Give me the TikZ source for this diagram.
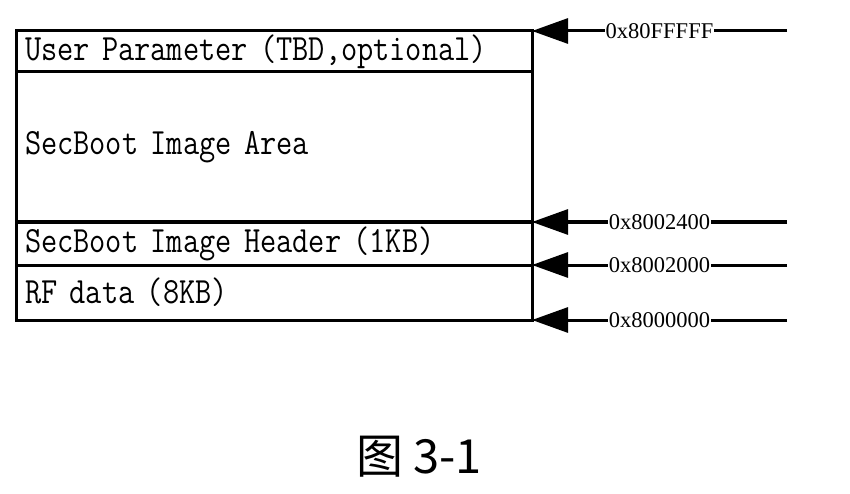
\documentclass[tikz,border=0pt]{standalone}
\usepackage{fontspec}
\setmainfont{Liberation Serif}
\newfontfamily\boxfont[FakeStretch=0.85]{Latin Modern Mono}
\newfontfamily\cjk{Noto Sans CJK SC}
\usetikzlibrary{arrows.meta}

\begin{document}
\begin{tikzpicture}[x=1pt,y=-1pt,
    region/.style={draw,line width=3pt,outer sep=0pt,minimum width=516pt,
      text width=498pt,inner xsep=9pt,inner ysep=0pt,align=left,
      font=\boxfont\fontsize{37}{40}\selectfont},
    addr/.style={-{Triangle[length=36pt,width=25pt]},line width=3pt},
    val/.style={fill=white,inner sep=1pt,font=\fontsize{22.5}{24}\selectfont}]

    \useasboundingbox (0,0) rectangle (850,494);

    % the memory regions
    \node[region,minimum height=41pt] (user) at (274,51.5) {User Parameter (TBD,optional)};
    \node[region,minimum height=150pt] (area) at (274,147) {SecBoot Image Area};
    \node[region,minimum height=43pt] (header) at (274,243.5) {SecBoot Image Header (1KB)};
    \node[region,minimum height=55pt] (rf) at (274,292.5) {RF data (8KB)};

    % the addresses
    \coordinate (top) at (787,31);
    \coordinate (a2400) at (787,222);
    \coordinate (a2000) at (787,265);
    \coordinate (a0000) at (787,320);

    \draw[addr] (top) -- node[val]{0x80FFFFF} (user.north east);
    \draw[addr] (a2400) -- node[val]{0x8002400} (header.north east);
    \draw[addr] (a2000) -- node[val]{0x8002000} (header.south east);
    \draw[addr] (a0000) -- node[val]{0x8000000} (rf.south east);

    \node[anchor=base,font=\cjk\fontsize{47}{50}\selectfont] (caption) at (419,473) {图 3-1};
  \end{tikzpicture}
\end{document}
